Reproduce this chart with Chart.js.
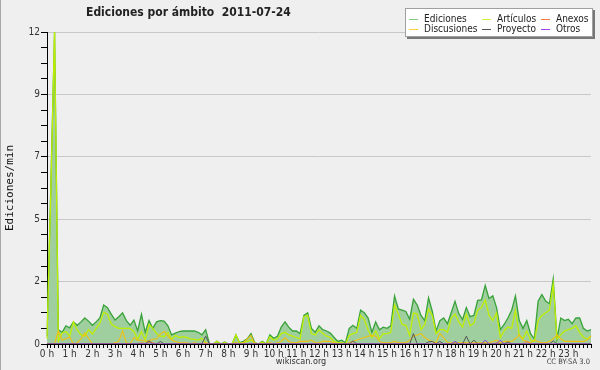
<!DOCTYPE html>
<html>
<head>
<meta charset="utf-8">
<script src="https://cdn.jsdelivr.net/npm/chart.js@4/dist/chart.umd.min.js"></script>
<style>
  body { margin: 0; background: #f0f0f0; }
  #wrap { position: relative; width: 600px; height: 370px; background: #efeff0; border-left: 1px solid #a8a8a8; box-sizing: border-box; overflow: hidden; }
  #c { position: absolute; left: 0; top: 0; }
  .txt { position: absolute; font-family: "DejaVu Sans Condensed", "DejaVu Sans", sans-serif; color: #222; white-space: nowrap; }
  #title { left: 85px; top: 5px; font-size: 12px; font-weight: bold; line-height: 14px; }
  #foot { left: 0; width: 600px; text-align: center; top: 356px; font-size: 9px; color: #333; }
  #lic { right: 10px; top: 357px; font-size: 7.5px; color: #444; }
  #legend { position: absolute; left: 404px; top: 8px; width: 188px; height: 29px; background: #fff;
    border: 1px solid #a0a0a0; box-shadow: 2px 2px 0 #777; box-sizing: border-box;
    display: grid; grid-template-columns: 73px 59px 52px; grid-auto-rows: 10px; padding: 5px 0 0 3px;
    font-family: "DejaVu Sans Condensed", "DejaVu Sans", sans-serif; font-size: 10px; color: #222; }
  .item { display: flex; align-items: center; line-height: 10px; white-space: nowrap; }
  .swatch { width: 9px; height: 1px; margin-right: 6px; }
</style>
</head>
<body>
<div id="wrap">
  <canvas id="c" width="600" height="370"></canvas>
  <div id="title" class="txt">Ediciones por ámbito&nbsp;&nbsp;2011-07-24</div>
  <div id="legend"></div>
  <div id="foot" class="txt">wikiscan.org</div>
  <div id="lic" class="txt">CC BY-SA 3.0</div>
</div>
<script>
/* ---------- DATA (10 min steps, 0:00 -> 24:00) ---------- */

const ediciones = [
  0.3, 6.0, 12.0, 0.55, 0.45, 0.7,
  0.62, 0.85, 0.72, 0.85, 1.0, 0.88,
  0.72, 0.85, 1.0, 1.5, 1.4, 1.15,
  0.92, 1.05, 1.2, 0.9, 0.72, 0.92,
  0.5, 1.14, 0.45, 0.9, 0.6, 0.85,
  0.9, 0.88, 0.7, 0.35, 0.42, 0.48,
  0.5, 0.5, 0.5, 0.5, 0.45, 0.35,
  0.55, 0, 0, 0.1, 0, 0.08,
  0, 0, 0.35, 0.05, 0.1, 0.2,
  0.4, 0.05, 0, 0.1, 0, 0.35,
  0.22, 0.3, 0.65, 0.85, 0.65, 0.5,
  0.5, 0.4, 1.1, 1.2, 0.6, 0.45,
  0.7, 0.55, 0.5, 0.42, 0.25, 0.1,
  0.15, 0.05, 0.6, 0.72, 0.6, 1.3,
  1.2, 1.0, 0.45, 0.85, 0.55, 0.65,
  0.6, 0.7, 1.85, 1.35, 1.3, 1.25,
  0.95, 1.72, 1.5, 1.1, 0.9, 1.78,
  1.25, 0.5, 0.9, 1.0, 0.78, 1.2,
  1.64, 1.17, 0.94, 1.4, 1.05, 1.1,
  1.68, 1.7, 2.25, 1.75, 1.85, 1.4,
  0.55, 0.75, 1.0, 1.3, 1.85, 0.9,
  0.6, 0.9, 0.4, 0.2, 1.65, 1.9,
  1.65, 1.55, 2.5, 0.2, 1.0, 0.9,
  0.95, 0.78, 1.0, 1.0, 0.6, 0.5,
  0.55
];

const articulos = [
  0.2, 5.8, 12.0, 0.1, 0.42, 0.48,
  0.3, 0.85, 0.54, 0.35, 0.3, 0.55,
  0.38, 0.6, 0.8, 1.22, 1.15, 0.77,
  0.67, 0.6, 0.6, 0.6, 0.6, 0.48,
  0.18, 0.48, 0.15, 0.75, 0.6, 0.4,
  0.3, 0.28, 0.45, 0.18, 0.33, 0.25,
  0.28, 0.25, 0.2, 0.18, 0.15, 0.22,
  0.05, 0, 0, 0.1, 0, 0.06,
  0, 0, 0.35, 0.04, 0.05, 0.1,
  0.15, 0.04, 0, 0.08, 0, 0.28,
  0.15, 0.2, 0.4, 0.45, 0.35, 0.3,
  0.25, 0.2, 1.05, 1.1, 0.4, 0.35,
  0.55, 0.4, 0.3, 0.25, 0.1, 0.05,
  0.05, 0, 0.33, 0.4, 0.45, 1.1,
  0.95, 0.55, 0.25, 0.5, 0.2, 0.4,
  0.4, 0.45, 1.5, 1.15, 0.75, 0.72,
  0.33, 1.2, 1.15, 0.55, 0.75, 1.35,
  1.1, 0.4, 0.55, 0.55, 0.45, 1.0,
  1.15, 0.85, 0.65, 1.15, 0.7, 0.8,
  1.3, 1.4, 1.7, 1.1, 0.9, 1.2,
  0.25, 0.5, 0.65, 0.6, 1.3, 0.35,
  0.2, 0.5, 0.15, 0.1, 0.9, 1.1,
  1.2, 1.3, 2.3, 0.2, 0.35, 0.5,
  0.55, 0.6, 0.7, 0.45, 0.25, 0.2,
  0.3
];

const anexos = [
  0, 0, 0, 0, 0, 0,
  0, 0, 0, 0, 0, 0,
  0, 0, 0, 0, 0, 0,
  0, 0, 0, 0, 0, 0,
  0, 0.05, 0, 0.08, 0.05, 0,
  0, 0, 0, 0, 0, 0,
  0, 0, 0, 0, 0, 0,
  0, 0, 0, 0, 0, 0,
  0, 0, 0, 0, 0, 0,
  0, 0, 0, 0, 0, 0,
  0, 0, 0, 0, 0, 0,
  0, 0, 0, 0, 0, 0,
  0, 0, 0, 0, 0, 0,
  0, 0, 0, 0, 0, 0,
  0, 0, 0, 0, 0, 0,
  0, 0, 0, 0, 0, 0,
  0, 0, 0, 0, 0, 0,
  0, 0, 0, 0, 0, 0,
  0, 0, 0, 0, 0, 0,
  0, 0, 0, 0, 0, 0.05,
  0, 0, 0, 0, 0, 0,
  0, 0.1, 0, 0, 0, 0,
  0, 0, 0, 0, 0, 0,
  0, 0, 0, 0, 0, 0,
  0
];

const discusiones = [
  0, 0, 0, 0.5, 0.15, 0.2,
  0.27, 0, 0.05, 0.2, 0.42, 0.22,
  0, 0, 0, 0, 0, 0,
  0.05, 0.1, 0.5, 0.05, 0, 0.25,
  0.15, 0.15, 0.1, 0.12, 0.18, 0.2,
  0.38, 0.48, 0.3, 0.15, 0.1, 0.05,
  0.05, 0.05, 0, 0.05, 0, 0,
  0.05, 0, 0, 0, 0, 0,
  0, 0, 0.05, 0, 0.05, 0.2,
  0.33, 0, 0, 0, 0, 0.05,
  0, 0.05, 0.1, 0.25, 0.1, 0.05,
  0.05, 0.1, 0.1, 0.1, 0.15, 0.05,
  0.05, 0.1, 0.1, 0.1, 0.05, 0,
  0, 0, 0.05, 0.1, 0.15, 0.2,
  0.25, 0.3, 0.33, 0.3, 0.1, 0.05,
  0.05, 0.05, 0.1, 0.05, 0.05, 0.05,
  0.15, 0.3, 0.35, 0.4, 0.25, 0.15,
  0.1, 0.05, 0.4, 0.25, 0.05, 0.05,
  0.05, 0.05, 0.05, 0.05, 0.05, 0.05,
  0.05, 0.05, 0.05, 0.05, 0.1, 0.15,
  0.05, 0.1, 0.1, 0.1, 0.2, 0.35,
  0.15, 0.1, 0.05, 0.15, 0.1, 0.05,
  0.05, 0.1, 0.2, 0.35, 0.2, 0.1,
  0.1, 0.1, 0.1, 0.1, 0.1, 0.15,
  0.3
];

const proyecto = [
  0, 0, 0, 0, 0, 0,
  0, 0, 0, 0, 0, 0,
  0, 0, 0, 0, 0, 0,
  0, 0, 0, 0, 0, 0,
  0, 0, 0, 0.12, 0, 0,
  0.1, 0, 0, 0, 0, 0,
  0, 0, 0, 0, 0, 0,
  0.3, 0, 0, 0, 0, 0,
  0, 0, 0, 0, 0, 0,
  0, 0, 0, 0, 0, 0,
  0, 0, 0, 0, 0, 0,
  0, 0, 0, 0, 0, 0,
  0, 0, 0, 0, 0, 0,
  0, 0, 0, 0.12, 0, 0,
  0, 0, 0, 0, 0, 0,
  0, 0, 0, 0, 0, 0,
  0, 0.4, 0, 0, 0, 0.08,
  0.1, 0, 0.1, 0, 0, 0,
  0, 0, 0, 0.3, 0, 0.15,
  0, 0, 0, 0, 0, 0,
  0, 0, 0.08, 0, 0, 0,
  0, 0, 0, 0, 0, 0,
  0, 0, 0.12, 0, 0, 0,
  0, 0, 0, 0, 0, 0,
  0
];

const otros = [
  0, 0, 0, 0, 0, 0,
  0, 0, 0, 0, 0, 0,
  0, 0, 0, 0, 0, 0,
  0, 0, 0, 0, 0, 0,
  0, 0, 0, 0, 0, 0,
  0, 0, 0, 0, 0, 0,
  0, 0, 0, 0, 0, 0,
  0, 0, 0, 0, 0, 0,
  0, 0, 0, 0, 0, 0,
  0, 0, 0, 0, 0, 0,
  0, 0, 0, 0, 0, 0,
  0, 0, 0, 0, 0, 0,
  0, 0, 0, 0, 0, 0,
  0, 0, 0, 0, 0, 0,
  0, 0, 0, 0, 0, 0,
  0, 0, 0, 0, 0, 0,
  0, 0, 0, 0, 0, 0,
  0, 0, 0, 0, 0, 0,
  0.1, 0, 0, 0, 0, 0,
  0, 0, 0.15, 0, 0, 0,
  0.15, 0, 0, 0, 0, 0,
  0, 0, 0, 0, 0, 0,
  0, 0, 0, 0, 0, 0,
  0, 0, 0, 0, 0, 0,
  0
];

const seriesNames  = ['Ediciones', 'Artículos', 'Anexos', 'Discusiones', 'Proyecto', 'Otros'];
const seriesColors = ['#37a237', '#bfee00', '#f07636', '#f0c010', '#555555', '#8b34ee'];
const legendColors = ['#7fcf7f', '#cdf53c', '#f07a40', '#f8d23a', '#555555', '#9a44f5'];
const hourLabels = ['0 h','1 h','2 h','3 h','4 h','5 h','6 h','7 h','8 h','9 h','10 h','11 h',
                    '12 h','13 h','14 h','15 h','16 h','17 h','18 h','19 h','20 h','21 h','22 h','23 h'];
const yLabels = ['0', '2', '5', '7', '9', '12'];
const yMax = 12;
const yMinorPerMajor = 4;

// time categories, one every 10 minutes
const times = [];
for (let h = 0; h <= 24; h++) {
  for (let m = 0; m < 60; m += 10) {
    if (h === 24 && m > 0) break;
    times.push(h + ':' + String(m).padStart(2, '0'));
  }
}

/* ---------- LEGEND ---------- */

const legend = document.getElementById('legend');
seriesNames.forEach((name, i) => {
  const el = document.createElement('div');
  el.className = 'item';
  el.innerHTML = `<span class="swatch" style="background:${legendColors[i]}"></span>${name}`;
  legend.appendChild(el);
});

/* ---------- CHART ---------- */

const values = [ediciones, articulos, anexos, discusiones, proyecto, otros];
const drawOrder = [10, 5, 3, 4, 2, 1];
const lineWidths = [1.3, 1.3, 1, 1.1, 1, 1];

const datasets = values.map((data, i) => ({
  label: seriesNames[i],
  data: data,
  borderColor: seriesColors[i],
  borderWidth: lineWidths[i],
  backgroundColor: i === 0 ? '#9fcf9f' : seriesColors[i],
  fill: i === 0 ? 'origin' : false,
  pointRadius: 0,
  tension: 0,
  order: drawOrder[i]
}));

const yStep = yMax / ((yLabels.length - 1) * yMinorPerMajor);

new Chart(document.getElementById('c'), {
  type: 'line',
  data: { labels: times, datasets },
  options: {
    responsive: false,
    animation: false,
    layout: { padding: { top: 32, right: 10, left: 0, bottom: 0 } },
    plugins: { legend: { display: false }, tooltip: { enabled: false } },
    scales: {
      x: {
        offset: false,
        afterFit: s => { s.height = 26; },
        border: { color: '#000', width: 1 },
        grid: { drawOnChartArea: false, tickLength: 4, tickColor: '#000' },
        ticks: {
          autoSkip: false, maxRotation: 0, minRotation: 0, padding: 0,
          color: '#333', font: { family: 'DejaVu Sans Condensed', size: 10 },
          callback: (v, i) => (i % 6 === 0 && i / 6 < hourLabels.length) ? hourLabels[i / 6] : ''
        }
      },
      y: {
        min: 0, max: yMax,
        afterFit: s => { s.width = 46; },
        afterBuildTicks: s => {
          const t = [];
          for (let k = 0; k <= (yLabels.length - 1) * yMinorPerMajor; k++) t.push({ value: k * yStep });
          s.ticks = t;
        },
        border: { color: '#000', width: 1 },
        grid: {
          tickLength: 6, tickColor: '#000',
          color: ctx => (ctx.index % yMinorPerMajor === 0 ? '#c8c8c8' : 'rgba(0,0,0,0)')
        },
        ticks: {
          padding: 1, color: '#333', font: { family: 'DejaVu Sans Condensed', size: 10 },
          callback: (v, i) => (i % yMinorPerMajor === 0 ? yLabels[i / yMinorPerMajor] : '')
        },
        title: {
          display: true, text: 'Ediciones/min', color: '#111',
          font: { family: 'DejaVu Sans Mono', size: 11 }, padding: { top: 3, bottom: 0 }
        }
      }
    }
  }
});
</script>
</body>
</html>
